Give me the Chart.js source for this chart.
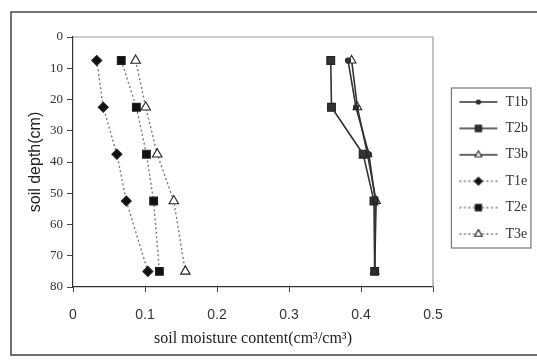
<!DOCTYPE html>
<html>
<head>
<meta charset="utf-8">
<script src="https://cdn.jsdelivr.net/npm/chart.js@4.4.1/dist/chart.umd.min.js"></script>
<style>
  html, body { margin: 0; padding: 0; background: #fff; }
  #wrap { width: 537px; height: 360px; }
</style>
</head>
<body>
<div id="wrap"><canvas id="soilChart" width="537" height="360"></canvas></div>
<script>

// DATA ######################################################################

// soil depth (cm) of each reading
var depths = [7.5, 22.5, 37.5, 52.5, 75];

// soil moisture content (cm3/cm3)
var t1b = [0.382, 0.393, 0.411, 0.420, 0.419];
var t2b = [0.358, 0.359, 0.403, 0.418, 0.419];
var t3b = [0.387, 0.395, 0.409, 0.421, 0.419];
var t1e = [0.033, 0.042, 0.061, 0.074, 0.104];
var t2e = [0.067, 0.088, 0.102, 0.112, 0.120];
var t3e = [0.087, 0.101, 0.117, 0.140, 0.156];

var seriesNames = ["T1b", "T2b", "T3b", "T1e", "T2e", "T3e"];
var xTicks = [0, 0.1, 0.2, 0.3, 0.4, 0.5];
var yTicks = [0, 10, 20, 30, 40, 50, 60, 70, 80];

var xTitle = "soil moisture content(cm\u00b3/cm\u00b3)";
var yTitle = "soil depth(cm)";


// HELPERS ###################################################################

function pairs(xs, ys) {
    return xs.map(function (x, i) { return {x: x, y: ys[i]}; });
}

var solid = "#333333";
var dotted = "#7a7a7a";

function makeSeries(name, values, style, marker, radius, fill) {
    var isDotted = style === "dotted";
    return {
        label: name,
        data: pairs(values, depths),
        showLine: true,
        borderColor: isDotted ? dotted : solid,
        borderWidth: isDotted ? 1.4 : 1.6,
        borderDash: isDotted ? [2, 2.5] : [],
        pointStyle: marker,
        pointRadius: radius,
        pointHoverRadius: radius,
        pointBackgroundColor: fill,
        pointBorderColor: "#222",
        pointBorderWidth: 1.1
    };
}

// small line + marker picture used as the legend symbol
function legendSample(ds) {
    var c = document.createElement("canvas");
    c.width = 53;
    c.height = 14;
    var g = c.getContext("2d");
    g.strokeStyle = ds.borderColor;
    g.lineWidth = ds.borderWidth;
    g.setLineDash(ds.borderDash);
    g.beginPath();
    g.moveTo(14, 7);
    g.lineTo(52, 7);
    g.stroke();
    g.setLineDash([]);
    g.fillStyle = ds.pointBackgroundColor;
    g.strokeStyle = ds.pointBorderColor;
    g.lineWidth = ds.pointBorderWidth;
    Chart.helpers.drawPoint(g, {
        pointStyle: ds.pointStyle,
        radius: ds.pointRadius * 0.8,
        borderWidth: ds.pointBorderWidth,
        rotation: 0
    }, 33, 7);
    return c;
}


// FRAMES ####################################################################

var framePlugin = {
    id: "frames",
    beforeDraw: function (chart) {
        var ctx = chart.ctx;
        ctx.save();
        ctx.fillStyle = "#fff";
        ctx.fillRect(0, 0, chart.width, chart.height);
        // outer figure frame
        ctx.strokeStyle = "#444";
        ctx.lineWidth = 1.5;
        ctx.beginPath();
        ctx.moveTo(chart.width, 12);
        ctx.lineTo(11, 12);
        ctx.lineTo(11, 355);
        ctx.lineTo(chart.width, 355);
        ctx.stroke();
        ctx.restore();
    },
    beforeDatasetsDraw: function (chart) {
        var a = chart.chartArea;
        var ctx = chart.ctx;
        ctx.save();
        ctx.strokeStyle = "#9a9a9a";
        ctx.lineWidth = 1.2;
        ctx.beginPath();
        ctx.moveTo(a.left, a.top);
        ctx.lineTo(a.right, a.top);
        ctx.lineTo(a.right, a.bottom);
        ctx.stroke();
        ctx.restore();
    },
    afterDraw: function (chart) {
        var boxes = chart.legend.legendHitBoxes;
        if (!boxes || !boxes.length) return;
        var left = Infinity, right = -Infinity;
        boxes.forEach(function (b) {
            left = Math.min(left, b.left);
            right = Math.max(right, b.left + b.width);
        });
        var first = boxes[0], last = boxes[boxes.length - 1];
        var ctx = chart.ctx;
        ctx.save();
        ctx.strokeStyle = "#777";
        ctx.lineWidth = 1.2;
        ctx.strokeRect(left + 6, first.top - 7,
                       right + 3 - (left + 6),
                       last.top + last.height + 7 - (first.top - 7));
        ctx.restore();
    }
};


// CHART #####################################################################

var datasets = [
    makeSeries(seriesNames[0], t1b, "solid", "circle", 2.5, "#333"),
    makeSeries(seriesNames[1], t2b, "solid", "rect", 5.5, "#333"),
    makeSeries(seriesNames[2], t3b, "solid", "triangle", 5, "#fff"),
    makeSeries(seriesNames[3], t1e, "dotted", "rectRot", 5, "#111"),
    makeSeries(seriesNames[4], t2e, "dotted", "rect", 5.5, "#111"),
    makeSeries(seriesNames[5], t3e, "dotted", "triangle", 5.5, "#fff")
];

var tickColor = "#333";

var soilChart = new Chart(document.getElementById("soilChart"), {
    type: "scatter",
    data: {datasets: datasets},
    plugins: [framePlugin],
    options: {
        responsive: false,
        animation: false,
        layout: {padding: {left: 0, right: 0, top: 37, bottom: 0}},
        plugins: {
            tooltip: {enabled: false},
            legend: {
                position: "right",
                fullSize: false,
                maxWidth: 104,
                title: {display: true, text: " ", padding: 0, font: {size: 10}},
                labels: {
                    usePointStyle: true,
                    pointStyleWidth: 53,
                    padding: 12.4,
                    color: "#333",
                    font: {family: "'Liberation Serif', serif", size: 14},
                    generateLabels: function (chart) {
                        return chart.data.datasets.map(function (ds, i) {
                            return {
                                text: ds.label,
                                pointStyle: legendSample(ds),
                                fillStyle: "transparent",
                                strokeStyle: "transparent",
                                lineWidth: 0,
                                fontColor: "#333",
                                hidden: false,
                                datasetIndex: i
                            };
                        });
                    }
                }
            }
        },
        scales: {
            x: {
                type: "linear",
                position: "bottom",
                min: xTicks[0],
                max: xTicks[xTicks.length - 1],
                afterFit: function (scale) { scale.height = 73; },
                ticks: {
                    stepSize: xTicks[1] - xTicks[0],
                    padding: 15,
                    color: tickColor,
                    font: {family: "'Liberation Sans', Arial, sans-serif", size: 14}
                },
                grid: {drawOnChartArea: false, tickLength: 5, color: "#444"},
                border: {color: "#333", width: 1.2},
                title: {
                    display: true,
                    text: xTitle,
                    color: "#222",
                    padding: {top: 0, bottom: 12},
                    font: {family: "'Liberation Serif', serif", size: 16}
                }
            },
            y: {
                type: "linear",
                reverse: true,
                min: yTicks[0],
                max: yTicks[yTicks.length - 1],
                afterFit: function (scale) { scale.width = 73; },
                ticks: {
                    stepSize: yTicks[1] - yTicks[0],
                    padding: 4,
                    color: tickColor,
                    font: {family: "'Liberation Serif', serif", size: 13}
                },
                grid: {drawOnChartArea: false, tickLength: 6, color: "#444"},
                border: {color: "#333", width: 1.2},
                title: {
                    display: true,
                    text: yTitle,
                    color: "#222",
                    padding: {top: 26, bottom: 0},
                    font: {family: "'Liberation Sans', Arial, sans-serif", size: 16}
                }
            }
        }
    }
});
</script>
</body>
</html>
